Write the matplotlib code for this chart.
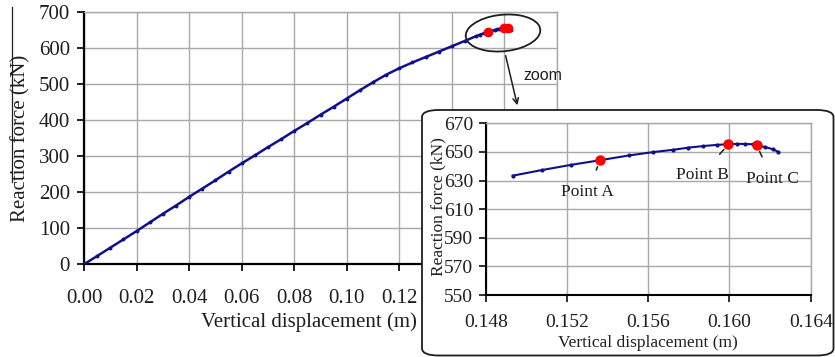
import matplotlib
matplotlib.use("Agg")
import matplotlib.pyplot as plt
from matplotlib.patches import FancyBboxPatch, Ellipse, FancyArrowPatch
from matplotlib.lines import Line2D

plt.rcParams['font.family'] = ['Liberation Serif', 'DejaVu Serif']

# ---- data ----
main_x = [0.0, 0.005, 0.01, 0.015, 0.02, 0.025, 0.03, 0.035, 0.04, 0.045, 0.05,
          0.055, 0.06, 0.065, 0.07, 0.075, 0.08, 0.085, 0.09, 0.095, 0.10,
          0.105, 0.11, 0.115, 0.12, 0.125, 0.13, 0.135, 0.14, 0.145]
main_y = [0, 23, 46, 69, 92, 116, 140, 163, 187, 210, 233,
          257, 280, 302, 325, 347, 370, 392, 415, 437, 460,
          483, 505, 526, 544, 560, 575, 590, 605, 620]
zoom_x = [0.14933, 0.15076, 0.15222, 0.15363, 0.15504, 0.15625, 0.15724, 0.15798,
          0.15872, 0.15937, 0.15995, 0.16036, 0.16077, 0.16118, 0.16134, 0.16175,
          0.16216, 0.16241]
zoom_y = [633.4, 637.3, 641.0, 644.2, 647.5, 649.9, 651.5, 653.0,
          654.1, 654.9, 655.4, 655.6, 655.6, 655.3, 654.6, 653.4,
          651.8, 649.9]
point_names = ["Point A", "Point B", "Point C"]
point_x = [0.15363, 0.15995, 0.16134]
point_y = [644.2, 655.4, 654.6]

main_xticks = [0.00, 0.02, 0.04, 0.06, 0.08, 0.10, 0.12, 0.14, 0.16, 0.18]
main_xticklabels = ["0.00", "0.02", "0.04", "0.06", "0.08", "0.10", "0.12", "", "", ""]
main_yticks = [0, 100, 200, 300, 400, 500, 600, 700]
zoom_xticks = [0.148, 0.152, 0.156, 0.160, 0.164]
zoom_yticks = [550, 570, 590, 610, 630, 650, 670]

all_x = main_x + zoom_x
all_y = main_y + zoom_y

W, H = 835, 357
fig = plt.figure(figsize=(W / 100, H / 100), dpi=100)

def fx(px):
    return px / W

def fy(py):
    return 1 - py / H

LINE = '#10108a'
GRID = '#a8a8a8'
TXT = '#1e1e1e'

# ---- main axes ----
L, R, T, B = 84, 557, 12, 264.3
ax = fig.add_axes([fx(L), fy(B), fx(R) - fx(L), fy(T) - fy(B)])
ax.plot(all_x, all_y, '-', color=LINE, lw=1.8, marker='o', ms=1.8, mfc=LINE, mec=LINE, zorder=3)
ax.plot(point_x, point_y, 'o', color='red', ms=6, mec='red', zorder=4)
ax.set_xlim(0, 0.18)
ax.set_ylim(0, 700)
ax.set_xticks(main_xticks)
ax.set_yticks(main_yticks)
ax.set_xticklabels(main_xticklabels)
ax.grid(True, color=GRID, lw=1)
ax.set_axisbelow(True)
for s in ['top', 'right']:
    ax.spines[s].set_color(GRID)
    ax.spines[s].set_linewidth(1)
for s in ['left', 'bottom']:
    ax.spines[s].set_color('black')
    ax.spines[s].set_linewidth(1.6)
ax.tick_params(axis='both', direction='out', length=5, width=1.4, labelsize=15, colors=TXT)
ax.tick_params(axis='x', pad=13)
ax.tick_params(axis='y', pad=5)
ax.set_xlabel("Vertical displacement (m)", fontsize=15, color=TXT, va='center')
ax.set_ylabel("Reaction force (kN)", fontsize=15, color=TXT, va='center')
ax.xaxis.set_label_coords((309 - L) / (R - L), -(322 - B) / (B - T), transform=ax.transAxes)
ax.yaxis.set_label_coords(-(L - 21) / (R - L), (B - 138) / (B - T), transform=ax.transAxes)

# ellipse and arrow
ell = Ellipse((fx(503), fy(33)), width=72 / W, height=38 / H, angle=-22,
              transform=fig.transFigure, fill=False, ec=TXT, lw=1.3, zorder=10)
fig.patches.append(ell)
arr = FancyArrowPatch((fx(505), fy(53)), (fx(518), fy(108)), transform=fig.transFigure,
                      arrowstyle='->', mutation_scale=10, color=TXT, lw=1.1, zorder=10)
fig.patches.append(arr)
fig.text(fx(543), fy(75), "zoom", fontsize=11.5, family=['Liberation Sans', 'DejaVu Sans'],
         ha='center', va='center', color=TXT)

# frame for inset
frame = FancyBboxPatch((fx(422), fy(355.5)), fx(833.5) - fx(422), fy(110) - fy(355.5),
                       boxstyle="round,pad=0,rounding_size=0.02",
                       transform=fig.transFigure, fc='white', ec=TXT, lw=1.3, zorder=20)
fig.patches.append(frame)

# ---- inset axes ----
L2, R2, T2, B2 = 485.7, 810.7, 123.3, 295
ax2 = fig.add_axes([fx(L2), fy(B2), fx(R2) - fx(L2), fy(T2) - fy(B2)], zorder=30)
ax2.patch.set_alpha(0)
ax2.plot(zoom_x, zoom_y, '-', color=LINE, lw=1.5, marker='o', ms=2, mfc=LINE, mec=LINE, zorder=3)
ax2.plot(point_x, point_y, 'o', color='red', ms=6.5, mec='red', zorder=4)
ax2.set_xlim(0.148, 0.164)
ax2.set_ylim(550, 670)
ax2.set_xticks(zoom_xticks)
ax2.set_yticks(zoom_yticks)
ax2.set_xticklabels(["%.3f" % v for v in zoom_xticks])
ax2.grid(True, color=GRID, lw=1)
ax2.set_axisbelow(True)
for s in ['top', 'right']:
    ax2.spines[s].set_color(GRID)
    ax2.spines[s].set_linewidth(1)
for s in ['left', 'bottom']:
    ax2.spines[s].set_color('black')
    ax2.spines[s].set_linewidth(1.5)
ax2.tick_params(axis='both', direction='out', length=5, width=1.3, labelsize=14, colors=TXT)
ax2.tick_params(axis='x', pad=9)
ax2.tick_params(axis='y', pad=4)
ax2.set_xlabel("Vertical displacement (m)", fontsize=12.5, color=TXT, va='center')
ax2.set_ylabel("Reaction force (kN)", fontsize=12.5, color=TXT, va='center')
ax2.xaxis.set_label_coords((648.3 - L2) / (R2 - L2), -(343.3 - B2) / (B2 - T2), transform=ax2.transAxes)
ax2.yaxis.set_label_coords(-(L2 - 438) / (R2 - L2), (B2 - 207) / (B2 - T2), transform=ax2.transAxes)

# point annotations
label_pos = [(587.5, 192.5), (702, 174.5), (772.5, 179)]
inv = ax2.transData.inverted()
for name, px_, py_, (lx, ly) in zip(point_names, point_x, point_y, label_pos):
    tx, ty = inv.transform(fig.transFigure.transform((fx(lx), fy(ly))))
    ax2.annotate(name, xy=(px_, py_), xytext=(tx, ty), textcoords='data',
                 ha='center', va='center', fontsize=12.5, color=TXT,
                 arrowprops=dict(arrowstyle='-', color=TXT, lw=1.1, shrinkA=9, shrinkB=5))

# thin artifact line at left edge
fig.lines.append(Line2D([fx(11.5), fx(11.5)], [fy(7), fy(182)], transform=fig.transFigure,
                        color=TXT, lw=0.9))

fig.savefig("out.png", dpi=100)
